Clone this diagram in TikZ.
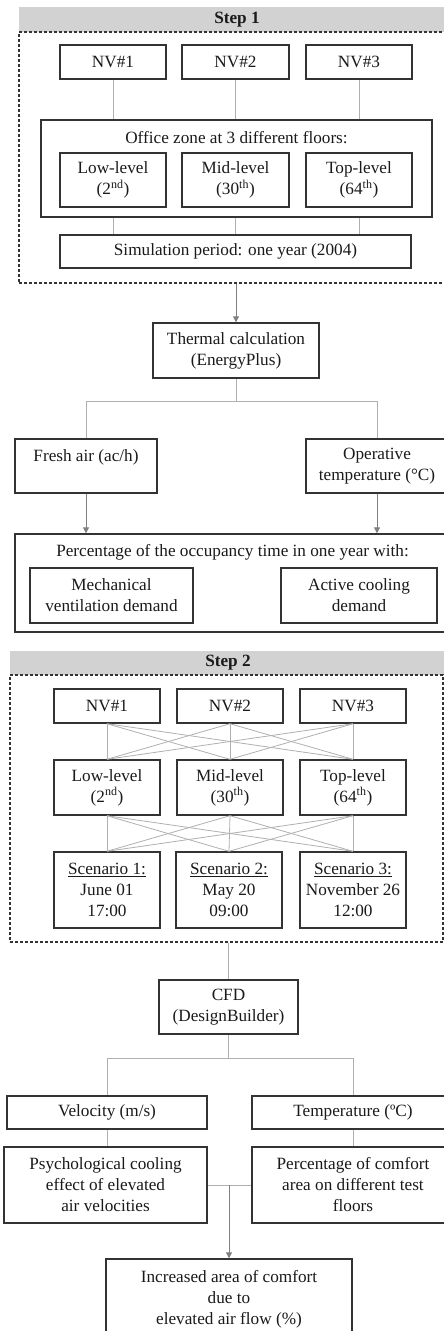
\documentclass[tikz,border=0pt]{standalone}
\usepackage{fontspec}
\setmainfont{Liberation Serif}
\usetikzlibrary{arrows.meta}
\definecolor{boxc}{HTML}{333333}
\definecolor{linec}{HTML}{B0B0B0}
\definecolor{arrc}{HTML}{808080}
\definecolor{hdrc}{HTML}{D2D2D2}
\definecolor{txtc}{HTML}{1A1A1A}
\newcommand{\fsz}{\fontsize{17.2}{21}\selectfont}
\tikzset{
  bx/.style={draw=boxc, line width=1.4pt, inner sep=0pt, align=center, font=\fsz, text=txtc},
  tx/.style={inner sep=0pt, align=center, font=\fsz, text=txtc},
  hdr/.style={fill=hdrc, inner sep=0pt, font=\fsz\bfseries, text=txtc},
  dsh/.style={draw=boxc, line width=1.3pt, dash pattern=on 3pt off 2pt},
  ln/.style={draw=linec, line width=0.8pt},
  ar/.style={draw=arrc, line width=0.9pt, -{Triangle[width=6pt,length=6pt]}},
}
\begin{document}
\begin{tikzpicture}[x=1pt,y=-1pt]
\clip (0,0) rectangle (444,1331);
\fill[white] (0,0) rectangle (444,1331);
% ---------- Step 1 ----------
\node[hdr, minimum width=436pt, minimum height=25pt] (h1) at (237,19.5) {Step 1};
\node[dsh, minimum width=436pt, minimum height=251pt] (d1) at (237,157.5) {};
\node[bx, minimum width=106pt, minimum height=34pt] (nv11) at (113,62) {NV\#1};
\node[bx, minimum width=107pt, minimum height=34pt] (nv12) at (235.5,62) {NV\#2};
\node[bx, minimum width=106pt, minimum height=34pt] (nv13) at (359,62) {NV\#3};
\node[bx, minimum width=391pt, minimum height=97pt] (office) at (236.5,168.5) {};
\node[tx] (officet) at (236.5,138) {Office zone at 3 different floors:};
\node[bx, minimum width=106pt, minimum height=54pt] (low1) at (113,180) {Low-level\\(2\textsuperscript{nd})};
\node[bx, minimum width=107pt, minimum height=54pt] (mid1) at (235.5,180) {Mid-level\\(30\textsuperscript{th})};
\node[bx, minimum width=106pt, minimum height=54pt] (top1) at (359,180) {Top-level\\(64\textsuperscript{th})};
\node[bx, minimum width=351pt, minimum height=33pt] (sim) at (235.5,251.5) {Simulation period: one year (2004)};
\foreach \n in {nv11,nv12,nv13}{\draw[ln] (\n.south) -- (\n.south |- office.north);}
\foreach \n in {low1,mid1,top1}{\draw[ln] (\n.south |- office.south) -- (\n.south |- sim.north);}
% ---------- Thermal ----------
\node[bx, minimum width=166pt, minimum height=55pt] (therm) at (236,350.5) {Thermal calculation\\(EnergyPlus)};
\draw[ar] (therm.north |- d1.south) -- (therm.north);
\node[bx, minimum width=142pt, minimum height=54pt] (fresh) at (86,466) {Fresh air (ac/h)\\\mbox{}};
\node[bx, minimum width=142pt, minimum height=54pt] (oper) at (377,466) {Operative\\temperature (°C)};
\coordinate (b1) at (236,401);
\draw[ln] (therm.south) -- (b1);
\draw[ln] (b1) -| (fresh.north);
\draw[ln] (b1) -| (oper.north);
\node[bx, minimum width=435pt, minimum height=98pt] (pct) at (232.5,583) {};
\node[tx] (pctt) at (232.5,552) {Percentage of the occupancy time in one year with:};
\node[bx, minimum width=163pt, minimum height=55pt] (mech) at (111.5,595.5) {Mechanical\\ventilation demand};
\node[bx, minimum width=156pt, minimum height=55pt] (active) at (359,595.5) {Active cooling\\demand};
\draw[ar] (fresh.south) -- (fresh.south |- pct.north);
\draw[ar] (oper.south) -- (oper.south |- pct.north);
% ---------- Step 2 ----------
\node[hdr, minimum width=436pt, minimum height=24pt] (h2) at (228,663) {Step 2};
\node[dsh, minimum width=433pt, minimum height=267pt] (d2) at (226.5,808.5) {};
\node[bx, minimum width=106pt, minimum height=34pt] (nv21) at (107,706) {NV\#1};
\node[bx, minimum width=106pt, minimum height=34pt] (nv22) at (230,706) {NV\#2};
\node[bx, minimum width=106pt, minimum height=34pt] (nv23) at (353,706) {NV\#3};
\node[bx, minimum width=106pt, minimum height=55pt] (low2) at (107,787.5) {Low-level\\(2\textsuperscript{nd})};
\node[bx, minimum width=106pt, minimum height=55pt] (mid2) at (230,787.5) {Mid-level\\(30\textsuperscript{th})};
\node[bx, minimum width=106pt, minimum height=55pt] (top2) at (353,787.5) {Top-level\\(64\textsuperscript{th})};
\node[bx, minimum width=106pt, minimum height=76pt] (sc1) at (107,890) {\underline{Scenario 1:}\\June 01\\17:00};
\node[bx, minimum width=106pt, minimum height=76pt] (sc2) at (229,890) {\underline{Scenario 2:}\\May 20\\09:00};
\node[bx, minimum width=106pt, minimum height=76pt] (sc3) at (353,890) {\underline{Scenario 3:}\\November 26\\12:00};
\foreach \a in {nv21,nv22,nv23}{\foreach \b in {low2,mid2,top2}{\draw[ln] (\a.south) -- (\b.north);}}
\foreach \a in {low2,mid2,top2}{\foreach \b in {sc1,sc2,sc3}{\draw[ln] (\a.south) -- (\b.north);}}
% ---------- CFD ----------
\node[bx, minimum width=139pt, minimum height=54pt] (cfd) at (228.5,1007) {CFD\\(DesignBuilder)};
\draw[ln] (cfd.north |- d2.south) -- (cfd.north);
\node[bx, minimum width=200pt, minimum height=33pt] (vel) at (107,1112.5) {Velocity (m/s)};
\node[bx, minimum width=202pt, minimum height=33pt] (temp) at (353,1112.5) {Temperature (ºC)};
\coordinate (b2) at (228.5,1058);
\draw[ln] (cfd.south) -- (b2);
\draw[ln] (b2) -| (vel.north);
\draw[ln] (b2) -| (temp.north);
\node[bx, minimum width=203pt, minimum height=76pt] (psy) at (105.5,1185) {Psychological cooling\\effect of elevated\\air velocities};
\node[bx, minimum width=202pt, minimum height=76pt] (pcf) at (353,1185) {Percentage of comfort\\area on different test\\floors};
\draw[ln] (vel.south) -- (vel.south |- psy.north);
\draw[ln] (temp.south) -- (temp.south |- pcf.north);
\draw[ln] (psy.east) -- (pcf.west);
\node[bx, minimum width=246pt, minimum height=80pt] (inc) at (229,1299) {Increased area of comfort\\due to\\elevated air flow (\%)};
\coordinate (m2) at (inc.north |- psy.east);
\draw[ar] (m2) -- (inc.north);
\end{tikzpicture}
\end{document}
